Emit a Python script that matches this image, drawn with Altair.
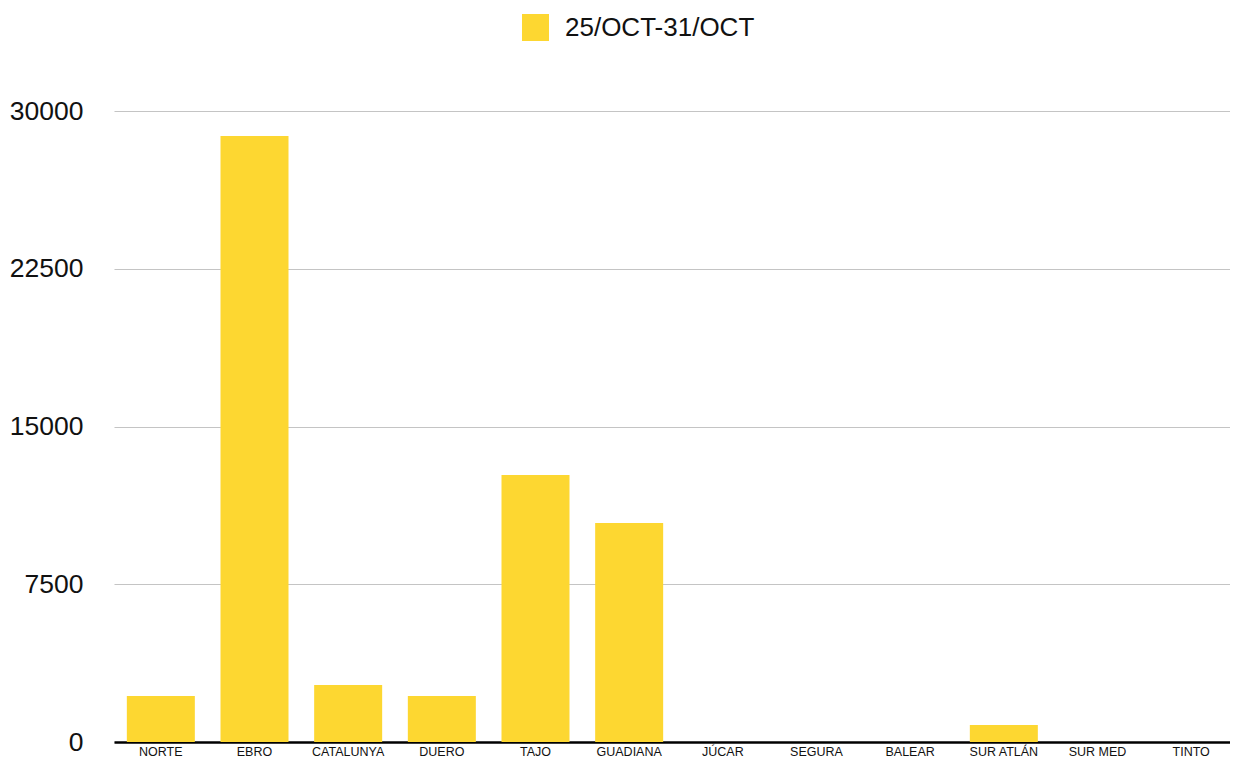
import altair as alt
import pandas as pd

categories = ["NORTE", "EBRO", "CATALUNYA", "DUERO", "TAJO", "GUADIANA",
              "JÚCAR", "SEGURA", "BALEAR", "SUR ATLÁN", "SUR MED", "TINTO"]
values = [2190, 28810, 2710, 2190, 12690, 10410, 0, 0, 0, 810, 0, 0]
series = "25/OCT-31/OCT"
y_ticks = [0, 7500, 15000, 22500, 30000]

df = pd.DataFrame({"cuenca": categories, "valor": values, "serie": [series] * len(categories)})

FONT = "Liberation Sans"

chart = alt.Chart(df).mark_bar(color="#FDD731").encode(
    x=alt.X("cuenca:N", sort=categories, title=None,
            scale=alt.Scale(paddingInner=0.274, paddingOuter=0.137),
            axis=alt.Axis(labelAngle=0, labelFontSize=12.5, labelFont=FONT, labelColor="#111",
                          ticks=False, labelPadding=3, domainColor="#000", domainWidth=2.5,
                          grid=False)),
    y=alt.Y("valor:Q", title=None,
            scale=alt.Scale(domain=[0, 30000], nice=False),
            axis=alt.Axis(values=y_ticks, format="d", labelFontSize=26.5, labelFont=FONT,
                          labelColor="#111", ticks=False, domain=False, labelPadding=31,
                          gridColor="#c4c4c4", gridWidth=1.2)),
    fill=alt.Fill("serie:N", scale=alt.Scale(range=["#FDD731"]),
                  legend=alt.Legend(title=None, orient="none", legendX=408, legendY=-97,
                                    symbolType="square", symbolSize=729, symbolStrokeWidth=0,
                                    labelFontSize=26, labelFont=FONT, labelColor="#111",
                                    labelOffset=16, labelLimit=0)),
).properties(
    width=1124, height=631,
    autosize=alt.AutoSizeParams(type="none"),
    padding={"left": 106, "top": 103, "right": -8, "bottom": 15},
).configure_view(stroke=None)

chart.save("out.html", embed_options={"renderer": "svg", "actions": False})
